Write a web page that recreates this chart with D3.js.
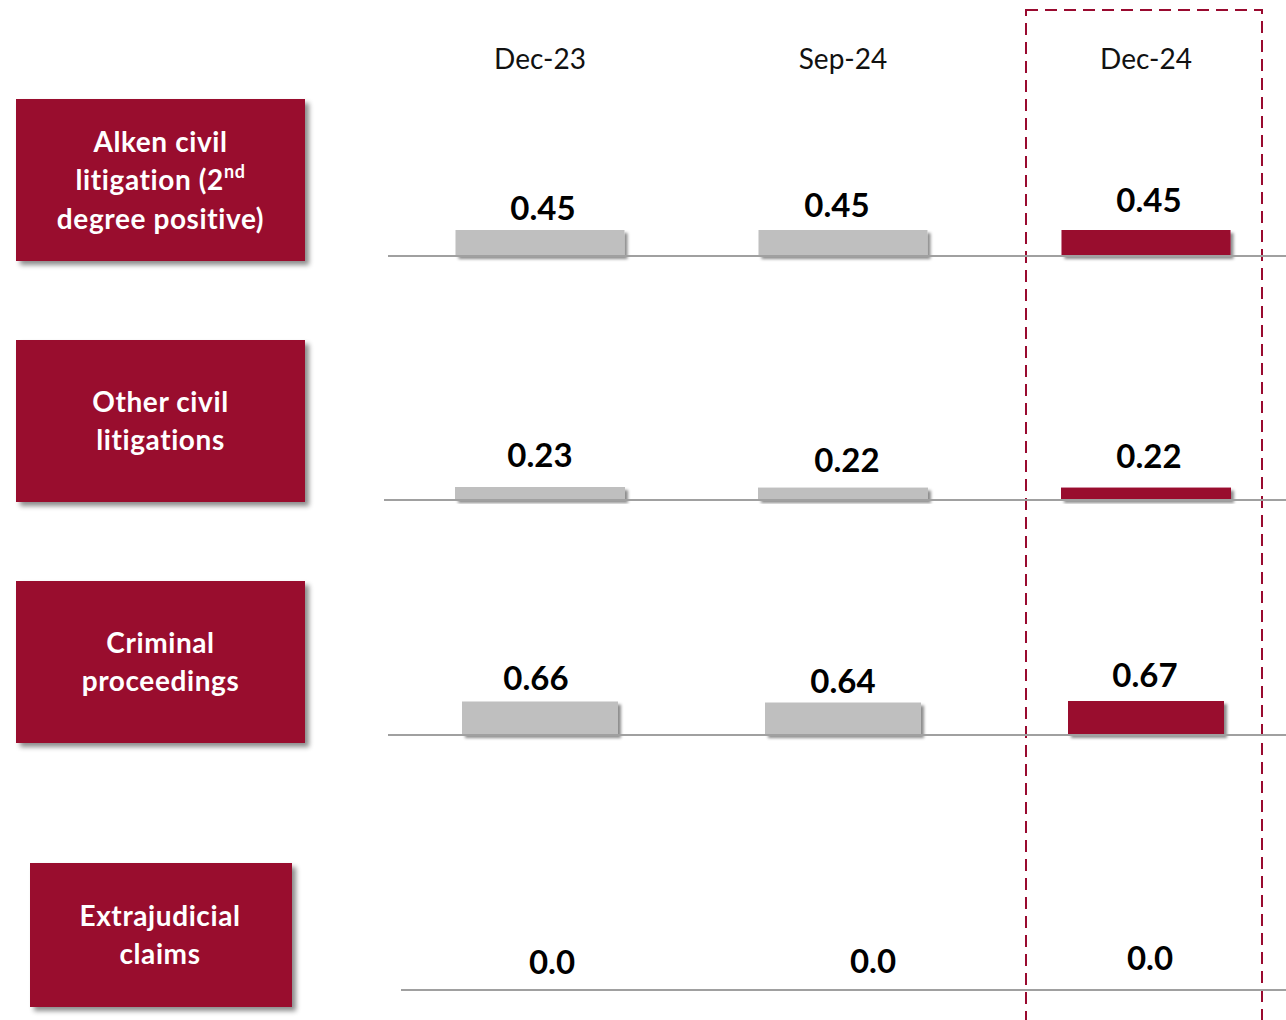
<!DOCTYPE html>
<html>
<head>
<meta charset="utf-8">
<script src="https://cdn.jsdelivr.net/npm/d3@7"></script>
<style>
  html, body { margin: 0; padding: 0; background: #ffffff; }
  svg { display: block; }
</style>
</head>
<body>
<svg id="chart" width="1286" height="1020"></svg>
<script>
// ---- data ----
const periods = ["Dec-23", "Sep-24", "Dec-24"];
const highlightPeriod = "Dec-24";

// category labels, one entry per text line; "^" starts a superscript
const categoryLines = [
  ["Alken civil", "litigation (2^nd", "degree positive)"],
  ["Other civil", "litigations"],
  ["Criminal", "proceedings"],
  ["Extrajudicial", "claims"]
];

const alkenValues = [0.45, 0.45, 0.45];
const otherCivilValues = [0.23, 0.22, 0.22];
const criminalValues = [0.66, 0.64, 0.67];
const extrajudicialValues = [0.0, 0.0, 0.0];
const seriesValues = [alkenValues, otherCivilValues, criminalValues, extrajudicialValues];
const valueFormats = [".2f", ".2f", ".2f", ".1f"];

// ---- layout ----
const rowLayout = [
  { baseline: 256, lineX0: 388, box: { x: 16, y: 99,  w: 289, h: 162 }, barMaxH: 26, barW: 169, labelGap: 11 },
  { baseline: 500, lineX0: 384, box: { x: 16, y: 340, w: 289, h: 162 }, barMaxH: 13, barW: 170, labelGap: 20 },
  { baseline: 735, lineX0: 388, box: { x: 16, y: 581, w: 289, h: 162 }, barMaxH: 34, barW: 156, labelGap: 13 },
  { baseline: 990, lineX0: 401, box: { x: 30, y: 863, w: 262, h: 144 }, barMaxH: 0,  barW: 170, labelGap: 18 }
];
// hand-placed nudges of the value labels, [dx, dy] per column
const labelNudges = [
  [[3, 1], [-6, -2], [3, -7]],
  [[0, 0], [4, 4], [3, 0]],
  [[-4, 1], [0, 3], [-1, -1.5]],
  [[12, 1.5], [30, 0.5], [4, -2.5]]
];

const COLOR_ACCENT = "#990a2f";
const COLOR_GREY_BAR = "#bfbfbf";
const COLOR_AXIS = "#a0a0a0";
const FONT = "Lato, 'Open Sans', 'DejaVu Sans', sans-serif";

const width = 1286, height = 1020;
const svg = d3.select("#chart");

// drop shadows
const defs = svg.append("defs");
function shadow(id, dx, dy, blur, opacity) {
  const f = defs.append("filter").attr("id", id)
    .attr("x", "-10%").attr("y", "-10%").attr("width", "130%").attr("height", "140%");
  f.append("feDropShadow")
    .attr("dx", dx).attr("dy", dy).attr("stdDeviation", blur)
    .attr("flood-color", "#000").attr("flood-opacity", opacity);
}
shadow("boxShadow", 4, 4, 2.5, 0.45);
shadow("barShadow", 3, 3, 1.8, 0.45);

// column positions
const x = d3.scalePoint().domain(periods).range([540, 1146]);

// highlighted column frame
const hx = x(highlightPeriod);
svg.append("rect")
  .attr("x", hx - 120).attr("y", 10)
  .attr("width", 236).attr("height", height + 20)
  .attr("fill", "none")
  .attr("stroke", COLOR_ACCENT)
  .attr("stroke-width", 2)
  .attr("stroke-dasharray", "12,7");

// column headers
svg.append("g").selectAll("text")
  .data(periods)
  .join("text")
  .attr("x", d => x(d))
  .attr("y", 69)
  .attr("text-anchor", "middle")
  .attr("font-family", FONT)
  .attr("font-size", 28)
  .attr("fill", "#111")
  .text(d => d);

// rows
rowLayout.forEach((row, i) => {
  const values = seriesValues[i];
  const g = svg.append("g");

  // category box
  const b = row.box;
  g.append("rect")
    .attr("x", b.x).attr("y", b.y)
    .attr("width", b.w).attr("height", b.h)
    .attr("fill", COLOR_ACCENT)
    .attr("filter", "url(#boxShadow)");

  const lines = categoryLines[i];
  const lineH = 38.5;
  const cx = b.x + b.w / 2 + (i === 3 ? -1 : 0);
  const cy = b.y + b.h / 2;
  lines.forEach((ln, k) => {
    const yc = cy + (k - (lines.length - 1) / 2) * lineH;
    const t = g.append("text")
      .attr("x", cx).attr("y", yc + 10)
      .attr("text-anchor", "middle")
      .attr("font-family", FONT)
      .attr("font-weight", 700)
      .attr("font-size", 28)
      .attr("letter-spacing", 0.6)
      .attr("fill", "#ffffff");
    const parts = ln.split("^");
    t.append("tspan").text(parts[0]);
    if (parts.length > 1) {
      t.append("tspan")
        .attr("font-size", 18)
        .attr("dy", -12)
        .text(parts[1]);
    }
  });

  // bar height scale for this row
  const h = d3.scaleLinear()
    .domain([0, d3.max(values) || 1])
    .range([0, row.barMaxH]);

  const cells = values.map((v, j) => ({ v, p: periods[j], n: labelNudges[i][j] }));

  // bars
  g.selectAll("rect.bar")
    .data(cells)
    .join("rect")
    .attr("class", "bar")
    .attr("x", d => x(d.p) - row.barW / 2)
    .attr("y", d => row.baseline - h(d.v))
    .attr("width", row.barW)
    .attr("height", d => h(d.v))
    .attr("fill", d => d.p === highlightPeriod ? COLOR_ACCENT : COLOR_GREY_BAR)
    .attr("filter", "url(#barShadow)");

  // baseline
  g.append("line")
    .attr("x1", row.lineX0).attr("x2", width)
    .attr("y1", row.baseline).attr("y2", row.baseline)
    .attr("stroke", COLOR_AXIS)
    .attr("stroke-width", 2);

  // value labels
  const fmt = d3.format(valueFormats[i]);
  g.selectAll("text.val")
    .data(cells)
    .join("text")
    .attr("class", "val")
    .attr("x", d => x(d.p) + d.n[0])
    .attr("y", d => row.baseline - h(d.v) - row.labelGap + d.n[1])
    .attr("text-anchor", "middle")
    .attr("font-family", FONT)
    .attr("font-weight", 700)
    .attr("font-size", 33)
    .attr("fill", "#000")
    .text(d => fmt(d.v));
});
</script>
</body>
</html>
